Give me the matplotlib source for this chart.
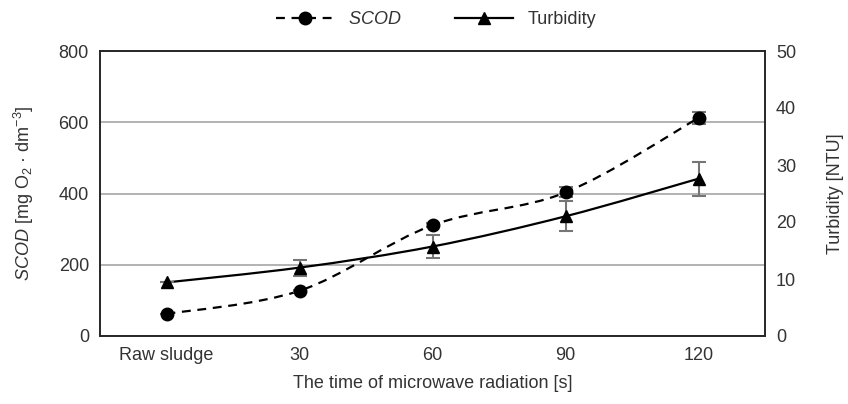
import matplotlib.pyplot as plt
import numpy as np
from matplotlib.path import Path
from matplotlib.patches import PathPatch
from matplotlib.lines import Line2D

plt.rcParams['font.family'] = ['Liberation Sans', 'DejaVu Sans']
plt.rcParams['mathtext.fontset'] = 'custom'
plt.rcParams['mathtext.rm'] = 'Liberation Sans'
plt.rcParams['mathtext.it'] = 'Liberation Sans:italic'

# Data
categories = ['Raw sludge', '30', '60', '90', '120']
scod = [62, 127, 311, 403, 612]
scod_err = [0, 3, 5, 14, 18]
turbidity = [9.4, 12.0, 15.7, 21.0, 27.6]
turbidity_err = [0, 1.4, 2.0, 2.6, 3.0]

text_col = '#333333'
fs = 13


def smooth_path(xs, ys):
    # Catmull-Rom style bezier through the points (like Excel smoothed lines)
    pts = np.column_stack([xs, ys]).astype(float)
    n = len(pts)
    verts = [pts[0]]
    codes = [Path.MOVETO]
    for i in range(n - 1):
        p0 = pts[i - 1] if i > 0 else pts[i]
        p1 = pts[i]
        p2 = pts[i + 1]
        p3 = pts[i + 2] if i + 2 < n else pts[i + 1]
        c1 = p1 + (p2 - p0) / 6
        c2 = p2 - (p3 - p1) / 6
        verts += [c1, c2, p2]
        codes += [Path.CURVE4] * 3
    return Path(verts, codes)


x = np.arange(len(categories))

fig = plt.figure(figsize=(8.48, 4.04), dpi=100)
ax = fig.add_axes([100 / 848, 68 / 404, 665 / 848, 285 / 404])
ax2 = ax.twinx()

# grid
ax.set_ylim(0, 800)
ax.set_yticks([0, 200, 400, 600, 800])
ax.grid(axis='y', color='#a6a6a6', linewidth=1.2)
ax.set_axisbelow(True)
ax.set_xlim(-0.5, len(categories) - 0.5)
ax.set_xticks(x)
ax.set_xticklabels(categories)

ax2.set_ylim(0, 50)
ax2.set_yticks([0, 10, 20, 30, 40, 50])

# SCOD
ax.add_patch(PathPatch(smooth_path(x, scod), facecolor='none', edgecolor='black',
                       linewidth=1.6, linestyle=(0, (4, 3)), zorder=3))
ax.errorbar(x, scod, yerr=scod_err, fmt='none', ecolor='#767676',
            elinewidth=1.5, capsize=5, capthick=1.5, zorder=4)
ax.plot(x, scod, 'o', color='black', markersize=9, zorder=5)

# Turbidity
ax2.add_patch(PathPatch(smooth_path(x, turbidity), facecolor='none', edgecolor='black',
                        linewidth=1.6, zorder=3))
ax2.errorbar(x, turbidity, yerr=turbidity_err, fmt='none', ecolor='#767676',
             elinewidth=1.5, capsize=5, capthick=1.5, zorder=4)
ax2.plot(x, turbidity, '^', color='black', markersize=9, zorder=5)

for a in (ax, ax2):
    a.tick_params(length=0, labelsize=fs, colors=text_col, pad=8)
    for s in a.spines.values():
        s.set_color('#262626')
        s.set_linewidth(1.2)

ax.set_xlabel('The time of microwave radiation [s]', fontsize=fs, color=text_col, labelpad=8)
ax.set_ylabel(r'$\it{SCOD}$ [mg O$_2$ · dm$^{-3}$]', fontsize=fs, color=text_col, labelpad=16)
ax2.set_ylabel('Turbidity [NTU]', fontsize=fs, color=text_col, labelpad=22)

handles = [
    Line2D([], [], color='black', linestyle=(0, (4, 3)), linewidth=1.6,
           marker='o', markersize=9),
    Line2D([], [], color='black', linewidth=1.6, marker='^', markersize=9),
]
leg = fig.legend(handles, [r'$\it{SCOD}$', 'Turbidity'], loc='center',
                 bbox_to_anchor=(436 / 848, 1 - 20 / 404), ncol=2, frameon=False,
                 fontsize=fs, handlelength=3.2, columnspacing=3, labelcolor=text_col)

fig.savefig('out.png', dpi=100)
